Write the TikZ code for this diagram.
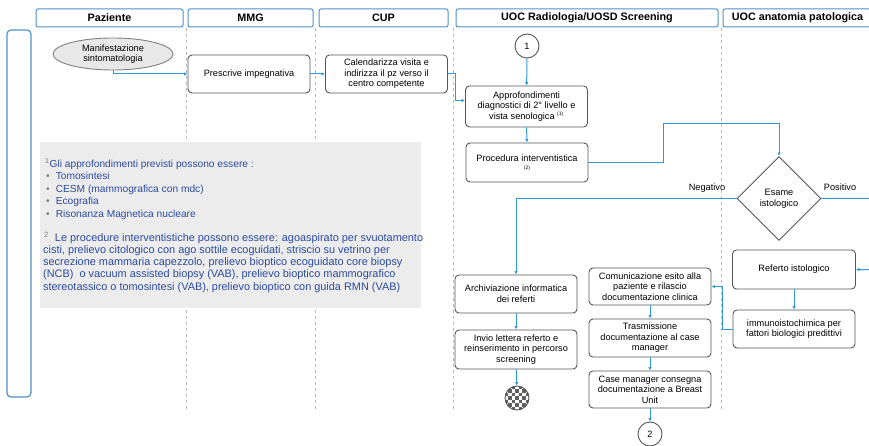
\documentclass[tikz,border=0pt]{standalone}
\usepackage{fontspec}
\setmainfont{Liberation Sans}
\usetikzlibrary{arrows.meta}
\usetikzlibrary{shapes.geometric}
\definecolor{lnblue}{RGB}{52,152,214}
\definecolor{hdblue}{RGB}{80,145,200}
\definecolor{notetxt}{RGB}{45,75,160}
\definecolor{notebg}{RGB}{236,236,236}
\definecolor{boxline}{RGB}{85,85,85}

\begin{document}
\begin{tikzpicture}[x=1pt,y=-1pt,font=\fontsize{9.2}{10.6}\selectfont,
    box/.style={draw=boxline,line width=0.9pt,rounded corners=4pt,align=center,minimum width=122,minimum height=38,inner sep=1pt},
    hdr/.style={draw=hdblue,line width=1pt,rounded corners=2pt,font=\fontsize{10.8}{12}\selectfont\bfseries,minimum height=18,inner sep=0pt},
    lane/.style={gray!55,dashed,line width=0.6pt},
    arr/.style={draw=lnblue,line width=1pt,-{Latex[length=3.5pt,width=3.5pt]}},
    note/.style={anchor=north west,align=left,text=notetxt,inner sep=0pt},
    every circle node/.style={draw=boxline,line width=0.9pt,minimum size=24,inner sep=0pt}]
    \useasboundingbox (0,0) rectangle (869,446);
    \clip (0,0) rectangle (869,446);
    %lanes
    \node[hdr,minimum width=147] (hpaz) at (109.5,18) {Paziente};
    \node[hdr,minimum width=125] (hmmg) at (250.5,18) {MMG};
    \node[hdr,minimum width=129] (hcup) at (383.5,18) {CUP};
    \node[hdr,minimum width=262] (hrad) at (587,18) {UOC Radiologia/UOSD Screening};
    \node[hdr,minimum width=149] (hana) at (797.5,18) {UOC anatomia patologica};
    \draw[hdblue,line width=1.2pt,rounded corners=4pt] (7,30) rectangle (31,397);
    \foreach \lx in {186,315,453,721}
        \draw[lane] (\lx,28) -- (\lx,412);
    %note
    \node[fill=notebg,minimum width=381,minimum height=166,anchor=north west,inner sep=0pt] (notes) at (40,142) {};
    \node[note,font=\fontsize{10.2}{12.5}\selectfont] (ntext) at (43,158.5) {%
        \hspace*{2pt}\textsuperscript{\color{gray}1}Gli approfondimenti previsti possono essere :\\
        \hspace*{3pt}{\color{gray}\textbullet}\hspace*{6pt}Tomosintesi\\
        \hspace*{3pt}{\color{gray}\textbullet}\hspace*{6pt}CESM (mammografica con mdc)\\
        \hspace*{3pt}{\color{gray}\textbullet}\hspace*{6pt}Ecografia\\
        \hspace*{3pt}{\color{gray}\textbullet}\hspace*{6pt}Risonanza Magnetica nucleare};
    \node[note,font=\fontsize{10.9}{12.3}\selectfont] (ntext2) at (43,231.5) {%
        \hspace*{1pt}\textsuperscript{\color{gray}2}\hspace*{6pt}Le procedure interventistiche possono essere: agoaspirato per svuotamento\\
        cisti, prelievo citologico con ago sottile ecoguidati, striscio su vetrino per\\
        secrezione mammaria capezzolo, prelievo bioptico ecoguidato core biopsy\\
        (NCB)\ \ o vacuum assisted biopsy (VAB), prelievo bioptico mammografico\\
        stereotassico o tomosintesi (VAB), prelievo bioptico con guida RMN (VAB)};
    %flow
    \node[ellipse,draw=gray,line width=0.9pt,fill=gray!18,minimum width=120,minimum height=32,inner sep=0pt,align=center] (manif) at (113,54) {Manifestazione\\sintomatologia};
    \node[box] (presc) at (249,74) {Prescrive impegnativa};
    \node[box] (cal) at (386.5,74) {Calendarizza visita e\\indirizza il pz verso il\\centro competente};
    \node[circle] (c1) at (527,46) {1};
    \node[box,minimum height=41] (appr) at (526.5,106.5) {Approfondimenti\\diagnostici di 2° livello e\\vista senologica \textsuperscript{\tiny(1)}};
    \node[box,minimum height=39] (proc) at (527,162.5) {Procedura interventistica\\[-2pt]{\fontsize{5}{6}\selectfont(2)}};
    \node[diamond,draw=boxline,line width=0.9pt,minimum width=84,minimum height=84,inner sep=0pt,align=center] (diam) at (779,198.5) {Esame\\istologico};
    \node (neg) at (707,188) {Negativo};
    \node (pos) at (840,187) {Positivo};
    \node[box,minimum width=123,minimum height=39] (ref) at (794,269.5) {Referto istologico};
    \node[box] (immu) at (794,329) {immunoistochimica per\\fattori biologici predittivi};
    \node[box,minimum height=37] (comm) at (650,286.5) {Comunicazione esito alla\\paziente e rilascio\\documentazione clinica};
    \node[box] (tras) at (650,338) {Trasmissione\\documentazione al case\\manager};
    \node[box,minimum height=37] (casem) at (650,389.5) {Case manager consegna\\documentazione a Breast\\Unit};
    \node[circle] (c2) at (650,434) {2};
    \node[box] (arch) at (516,294) {Archiviazione informatica\\dei referti};
    \node[box,minimum height=39] (invio) at (516,349.5) {Invio lettera referto e\\reinserimento in percorso\\screening};
    \node[circle,minimum size=28,path picture={
        \foreach \i in {-4,...,4}
            \foreach \j in {-4,...,4} {
                \pgfmathtruncatemacro\cb{mod(\i+\j+8,2)}
                \ifnum\cb=0 \fill[gray!75!black] ([shift={(\i*3.6-1.8,\j*3.6-1.8)}]path picture bounding box.center) rectangle ++(3.6,3.6);\fi
            }}] (fine) at (517,398) {};
    \coordinate (k1) at (663,124);
    \coordinate (k2) at (885,270);
    \draw[arr] (manif.south) |- (presc.west);
    \draw[arr] (presc) -- (cal);
    \draw[arr] (cal.east) -- ++(8,0) |- ([yshift=6pt]appr.west);
    \draw[arr] (c1) -- (appr);
    \draw[arr] (appr) -- (proc);
    \draw[arr] (proc.east) -| (k1) -| (diam.north);
    \draw[arr] (diam.west) -| (arch.north);
    \draw[arr] (diam.east) -| (k2) -- (ref.east);
    \draw[arr] (ref) -- (immu);
    \draw[arr] (immu.west) -- ++(-10,0) |- (comm.east);
    \draw[arr] (comm) -- (tras);
    \draw[arr] (tras) -- (casem);
    \draw[arr] (casem) -- (c2);
    \draw[arr] (arch) -- (invio);
    \draw[arr] (invio) -- (fine);
\end{tikzpicture}
\end{document}
